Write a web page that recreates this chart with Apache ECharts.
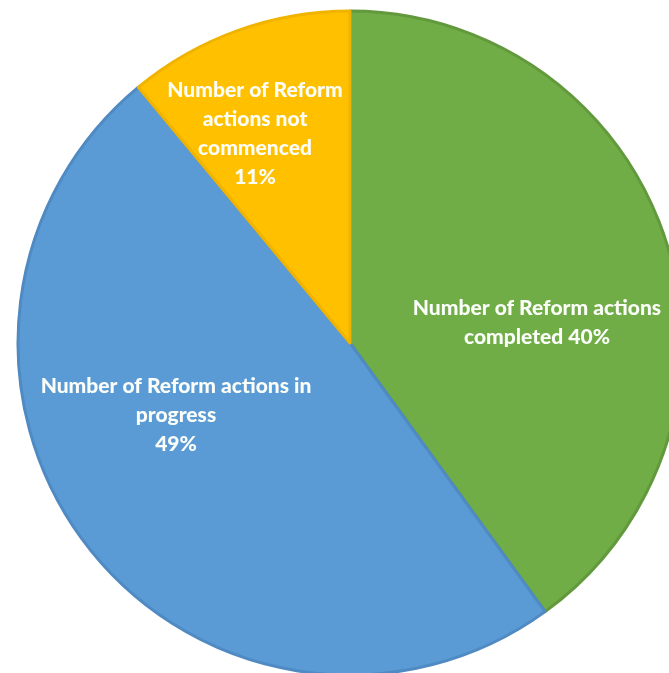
<!DOCTYPE html>
<html>
<head>
<meta charset="utf-8">
<style>
html,body{margin:0;padding:0;background:#fff;}
#chart{width:669px;height:673px;}
</style>
<script src="https://cdn.jsdelivr.net/npm/echarts@6/dist/echarts.min.js"></script>
</head>
<body>
<div id="chart"></div>
<script>
// Data
var categories = [
  "Number of Reform actions\ncompleted",
  "Number of Reform actions in\nprogress",
  "Number of Reform\nactions not\ncommenced"
];
var values = [40, 49, 11];
var separators = [" ", "\n", "\n"];

// Styles (not data)
var colors = ["#70AD47", "#5B9BD5", "#FFC000"];
var borderColors = ["#62993c", "#4f8ac2", "#f0b400"];
var labelCenters = [[537, 323], [176, 415], [255, 134]];

var chart = echarts.init(document.getElementById('chart'));
var data = categories.map(function (c, i) {
  return {
    name: c,
    value: values[i],
    itemStyle: { color: colors[i], borderColor: borderColors[i], borderWidth: 3 }
  };
});
chart.setOption({
  animation: false,
  backgroundColor: '#ffffff',
  series: [{
    type: 'pie',
    center: [350, 343],
    radius: [0, 332],
    startAngle: 90,
    clockwise: true,
    data: data,
    label: {
      show: true,
      position: 'inside',
      color: '#fbfdf8',
      fontFamily: 'Lato',
      fontWeight: 900,
      fontSize: 21,
      lineHeight: 29,
      align: 'center',
      formatter: function (p) {
        return p.name + separators[p.dataIndex] + p.value + '%';
      }
    },
    labelLine: { show: false },
    labelLayout: function (p) {
      var c = labelCenters[p.dataIndex];
      return { x: c[0], y: c[1], align: 'center', verticalAlign: 'middle' };
    },
    emphasis: { disabled: true }
  }]
});
</script>
</body>
</html>
